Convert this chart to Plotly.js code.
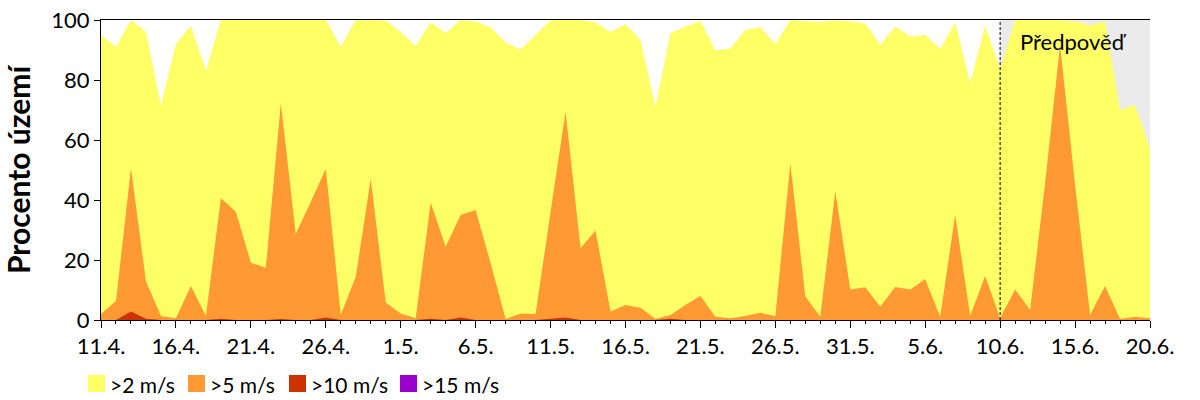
<!DOCTYPE html>
<html>
<head>
<meta charset="utf-8">
<script src="https://cdn.plot.ly/plotly-3.0.1.min.js"></script>
<style>
html,body{margin:0;padding:0;background:#fff;}
#chart{width:1200px;height:400px;}
</style>
</head>
<body>
<div id="chart"></div>
<script>
// ---- data (percent of territory, one value per day 11.4. .. 20.6.) ----
var tickLabels = ["11.4.","16.4.","21.4.","26.4.","1.5.","6.5.","11.5.","16.5.","21.5.","26.5.","31.5.","5.6.","10.6.","15.6.","20.6."];
var seriesNames = [">2 m/s", ">5 m/s", ">10 m/s", ">15 m/s"];
var over2 = [95,91,100,96,71.5,92,98,83,100,100,100,100,100,100,100,100,91,100,100,99.8,
  96,91.3,99.2,95.6,100,99.5,97.5,92.4,90.2,95,100,100,100,99.2,95.9,98.6,93.3,71,95.6,97.8,
  99.7,89.8,90.6,96.7,97.6,91.9,100,99.6,99.4,99.8,99.6,98.8,91.7,97.8,94.4,95,90.3,99.2,79,98.1,
  83.6,100,100,100,100,99.6,98.2,99.6,70,71.7,57];
var over5 = [2,6.3,50.6,12.8,1.3,0.6,11.3,1.3,40.6,36.1,19.1,17.4,72.2,28.7,39.4,50.3,1.7,14.4,47,5.8,
  2.2,0.6,39.2,24.4,35,36.7,18.9,0.3,2.2,2,36,69.4,23.9,29.8,2.8,5,4.1,0.3,1.7,5,
  8,1.1,0.6,1.3,2.4,1.3,52.2,7.8,1.1,42.8,10.2,10.9,4.4,11,10.2,13.6,1.1,35,1.3,14.7,
  0.6,10.2,3.3,45.6,91.7,45,1.7,11.3,0.3,1.1,0.6];
var over10 = [0,0,2.8,0.4,0,0,0,0,0.4,0,0,0,0.3,0,0,0.8,0,0,0,0,
  0,0,0.4,0,0.8,0,0,0,0,0,0.4,0.8,0,0,0,0,0,0,0.4,0,
  0,0,0,0,0,0,0,0,0,0,0,0,0,0,0,0,0,0,0,0,
  0,0,0,0,0,0,0,0,0,0,0];
var over15 = [0,0,0,0,0,0,0,0,0,0,0,0,0,0,0,0,0,0,0,0,
  0,0,0,0,0,0,0,0,0,0,0,0,0,0,0,0,0,0,0,0,
  0,0,0,0,0,0,0,0,0,0,0,0,0,0,0,0,0,0,0,0,
  0,0,0,0,0,0,0,0,0,0,0];
var forecastStart = 60;   // day index of 10.6.
var forecastLabel = "Předpověď";
var yTitle = "Procento území";

// ---- styling ----
var colors = ["#FFFF66", "#FF9933", "#CC3300", "#9900CC"];
var font = "Lato, 'Open Sans', sans-serif";
var allSeries = [over2, over5, over10, over15];
var days = over2.map(function(_, i){ return i; });
var tickVals = tickLabels.map(function(_, i){ return i * 5; });

var traces = allSeries.map(function(vals, k){
  return {x: days, y: vals, type: "scatter", mode: "none", fill: "tozeroy",
          fillcolor: colors[k], name: seriesNames[k], hoverinfo: "skip", showlegend: false};
});

// plot area in pixels
var M = {l: 101, r: 50, t: 20, b: 80};
var W = 1200, H = 400;
var pw = W - M.l - M.r, ph = H - M.t - M.b;
function px2x(p){ return (p - M.l) / pw; }
function py2y(p){ return (H - M.b - p) / ph; }

var shapes = [
  {type: "rect", xref: "x", yref: "y", x0: forecastStart, x1: days[days.length-1], y0: 0, y1: 100,
   fillcolor: "#EBEBEB", line: {width: 0}, layer: "below"},
  {type: "line", xref: "x", yref: "paper", x0: forecastStart, x1: forecastStart, y0: 0, y1: 1,
   line: {color: "#000", width: 1, dash: "3px,2px"}, layer: "above"}
];
var annotations = [
  {xref: "x", yref: "y", x: 64.9, y: 93, text: forecastLabel, showarrow: false,
   font: {family: font, size: 22, color: "#000"}}
];
var legendPx = [88, 188, 289, 400];
seriesNames.forEach(function(n, k){
  shapes.push({type: "rect", xref: "paper", yref: "paper",
    x0: px2x(legendPx[k]), x1: px2x(legendPx[k] + 17), y0: py2y(375), y1: py2y(392),
    fillcolor: colors[k], line: {width: 0}});
  annotations.push({xref: "paper", yref: "paper", x: px2x(legendPx[k] + 20), y: py2y(384),
    xanchor: "left", yanchor: "middle", text: n, showarrow: false,
    font: {family: font, size: 21, color: "#000"}});
});

var layout = {
  width: W, height: H,
  margin: M,
  paper_bgcolor: "#fff", plot_bgcolor: "#fff",
  showlegend: false,
  font: {family: font, size: 22, color: "#000"},
  xaxis: {
    range: [0, days.length - 1], tickmode: "array", tickvals: tickVals, ticktext: tickLabels,
    ticks: "outside", ticklen: 7, tickcolor: "#000", showline: true, linecolor: "#000", linewidth: 1,
    mirror: true, showgrid: false, zeroline: false,
    tickfont: {family: font, size: 22, color: "#000"},
    minor: {tickmode: "linear", tick0: 0, dtick: 1, ticks: "outside", ticklen: 3, tickcolor: "#000", showgrid: false}
  },
  yaxis: {
    range: [0, 100], tickmode: "array", tickvals: [0,20,40,60,80,100],
    ticks: "outside", ticklen: 6, tickcolor: "#000", showline: true, linecolor: "#000", linewidth: 1,
    showgrid: false, zeroline: false,
    tickfont: {family: font, size: 22, color: "#000"},
    title: {text: yTitle, standoff: 18, font: {family: font, size: 30, color: "#000", weight: "bold"}}
  },
  shapes: shapes,
  annotations: annotations
};

Plotly.newPlot("chart", traces, layout, {staticPlot: true, displayModeBar: false});
</script>
</body>
</html>
